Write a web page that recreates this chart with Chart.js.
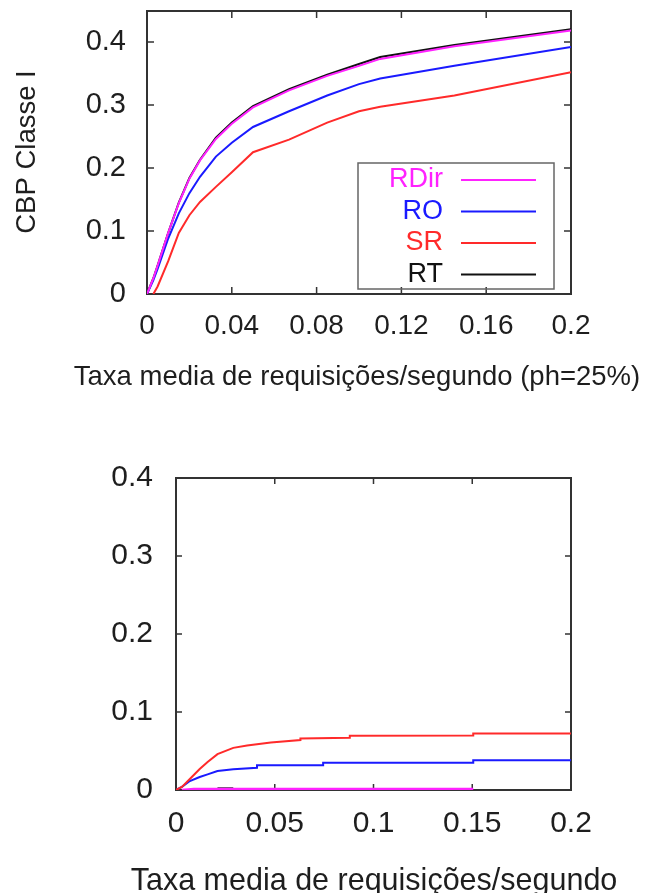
<!DOCTYPE html>
<html>
<head>
<meta charset="utf-8">
<script src="https://cdn.jsdelivr.net/npm/chart.js@4.4.0/dist/chart.umd.min.js"></script>
<style>
  body { margin: 0; background: #fff; }
  .box { position: absolute; left: 0; width: 646px; }
</style>
</head>
<body>
<div class="box" style="top:0;height:400px"><canvas id="cbp"></canvas></div>
<div class="box" style="top:440px;height:453px"><canvas id="cdp"></canvas></div>
<script>
// grafico de cima: CBP classe I (ph=25%)
const topX = [0, 0.003, 0.005, 0.01, 0.015, 0.02, 0.025, 0.0325, 0.04, 0.05, 0.067, 0.085, 0.1, 0.11, 0.145, 0.2];
const topRDir = [0, 0.025, 0.045, 0.097, 0.144, 0.183, 0.212, 0.246, 0.270, 0.296, 0.323, 0.346, 0.362, 0.373, 0.393, 0.418];
const topRO   = [0, 0.022, 0.040, 0.088, 0.128, 0.160, 0.186, 0.218, 0.240, 0.265, 0.290, 0.315, 0.333, 0.342, 0.362, 0.392];
const topSR   = [null, 0, 0.012, 0.052, 0.097, 0.125, 0.146, 0.170, 0.193, 0.225, 0.245, 0.272, 0.290, 0.297, 0.315, 0.352];
const topRT   = [0, 0.025, 0.045, 0.097, 0.145, 0.184, 0.213, 0.248, 0.272, 0.298, 0.325, 0.348, 0.365, 0.376, 0.395, 0.420];
const topXTicks = [0, 0.04, 0.08, 0.12, 0.16, 0.2];
const topXLabels = ['0', '0.04', '0.08', '0.12', '0.16', '0.2'];
const topYTicks = [0, 0.1, 0.2, 0.3, 0.4];
const topYLabels = ['0', '0.1', '0.2', '0.3', '0.4'];

// grafico de baixo: CDP classe I (curvas em degraus)
const botSRX  = [0, 0.003, 0.007, 0.012, 0.016, 0.021, 0.029, 0.036, 0.048, 0.063, 0.063, 0.088, 0.088, 0.1505, 0.1505, 0.2];
const botSRY  = [0, 0.004, 0.014, 0.027, 0.036, 0.046, 0.054, 0.057, 0.061, 0.064, 0.066, 0.067, 0.0695, 0.070, 0.0725, 0.0725];
const botROX  = [0, 0.003, 0.007, 0.012, 0.016, 0.021, 0.029, 0.041, 0.041, 0.0745, 0.0745, 0.1505, 0.1505, 0.2];
const botROY  = [0, 0.004, 0.0115, 0.0167, 0.020, 0.0244, 0.0265, 0.0285, 0.0316, 0.0316, 0.035, 0.035, 0.038, 0.038];
const botRDirX = [0.003, 0.009, 0.1505];
const botRDirY = [0, 0.0012, 0.0012];
const botRTX  = [0.021, 0.029];
const botRTY  = [0.0015, 0.0015];
const botXTicks = [0, 0.05, 0.1, 0.15, 0.2];
const botXLabels = ['0', '0.05', '0.1', '0.15', '0.2'];
const botYTicks = [0, 0.1, 0.2, 0.3, 0.4];
const botYLabels = ['0', '0.1', '0.2', '0.3', '0.4'];

const MAGENTA = '#ff22ff', BLUE = '#1a1aff', RED = '#ff2a2a', BLACK = '#111111';
const TXT = '#1e1e1e';
const FONT = '"Liberation Sans", Arial, sans-serif';

function pts(xs, ys) {
  return xs.map((x, i) => ({ x: x, y: ys[i] }));
}

function serie(label, xs, ys, color, width) {
  return {
    label: label,
    data: pts(xs, ys),
    borderColor: color,
    backgroundColor: color,
    borderWidth: width || 2,
    pointRadius: 0,
    tension: 0,
    fill: false
  };
}

// moldura com marcas para dentro (estilo gnuplot)
const frame = {
  id: 'frame',
  beforeDatasetsDraw(chart, args, opts) {
    const { ctx, chartArea: a, scales } = chart;
    const tl = opts.tick || 7;
    ctx.save();
    ctx.strokeStyle = '#333';
    ctx.lineWidth = 2;
    ctx.strokeRect(a.left, a.top, a.right - a.left, a.bottom - a.top);
    ctx.lineWidth = 1.5;
    ctx.beginPath();
    scales.x.ticks.forEach(t => {
      const px = scales.x.getPixelForValue(t.value);
      ctx.moveTo(px, a.bottom); ctx.lineTo(px, a.bottom - tl);
      ctx.moveTo(px, a.top); ctx.lineTo(px, a.top + tl);
    });
    scales.y.ticks.forEach(t => {
      const py = scales.y.getPixelForValue(t.value);
      ctx.moveTo(a.left, py); ctx.lineTo(a.left + tl, py);
      ctx.moveTo(a.right, py); ctx.lineTo(a.right - tl, py);
    });
    ctx.stroke();
    ctx.restore();
  }
};

// titulos dos eixos desenhados a mao (o titulo do Chart.js fica espremido)
const axisTitles = {
  id: 'axisTitles',
  afterDraw(chart, args, opts) {
    const { ctx, chartArea: a } = chart;
    ctx.save();
    ctx.fillStyle = TXT;
    ctx.textAlign = 'center';
    ctx.textBaseline = 'alphabetic';
    ctx.font = opts.xSize + 'px ' + FONT;
    ctx.fillText(opts.xText, opts.xCenter, a.bottom + opts.xBase);
    ctx.translate(opts.yBase, opts.yCenter);
    ctx.rotate(-Math.PI / 2);
    ctx.font = opts.ySize + 'px ' + FONT;
    ctx.fillText(opts.yText, 0, 0);
    ctx.restore();
  }
};

// legenda dentro do grafico: texto colorido a esquerda, linha a direita
const innerLegend = {
  id: 'innerLegend',
  afterDraw(chart, args, opts) {
    if (!opts.show) return;
    const { ctx } = chart;
    ctx.save();
    ctx.strokeStyle = '#666';
    ctx.lineWidth = 1.5;
    ctx.strokeRect(opts.left, opts.top, opts.width, opts.height);
    ctx.font = opts.fontSize + 'px ' + FONT;
    ctx.textAlign = 'right';
    ctx.textBaseline = 'middle';
    chart.data.datasets.forEach((ds, i) => {
      const y = opts.firstRow + i * opts.rowGap;
      ctx.fillStyle = ds.borderColor;
      ctx.fillText(ds.label, opts.textRight, y);
      ctx.strokeStyle = ds.borderColor;
      ctx.lineWidth = 2;
      ctx.beginPath();
      ctx.moveTo(opts.lineFrom, y);
      ctx.lineTo(opts.lineTo, y);
      ctx.stroke();
    });
    ctx.restore();
  }
};

function makeChart(id, datasets, c) {
  return new Chart(document.getElementById(id), {
    type: 'line',
    data: { datasets: datasets },
    plugins: [frame, axisTitles, innerLegend],
    options: {
      responsive: true,
      maintainAspectRatio: false,
      animation: false,
      layout: { autoPadding: false, padding: { top: c.padTop, right: c.padRight, left: 0, bottom: 0 } },
      plugins: {
        legend: { display: false },
        tooltip: { enabled: false },
        frame: { tick: c.tick },
        axisTitles: c.titles,
        innerLegend: c.legend || { show: false }
      },
      scales: {
        x: {
          type: 'linear',
          min: 0,
          max: 0.2,
          afterBuildTicks: s => { s.ticks = c.xTicks.map(v => ({ value: v })); },
          afterFit: s => { s.height = c.axisH; s.paddingLeft = 0; s.paddingRight = 0; },
          grid: { display: false, drawTicks: false },
          border: { display: false },
          ticks: {
            color: TXT,
            font: { family: FONT, size: c.xTickSize },
            padding: c.xPad,
            maxRotation: 0,
            autoSkip: false,
            callback: (v, i) => c.xLabels[i]
          }
        },
        y: {
          type: 'linear',
          min: 0,
          max: c.yMax,
          afterBuildTicks: s => { s.ticks = c.yTicks.map(v => ({ value: v })); },
          afterFit: s => { s.width = c.axisW; s.paddingTop = 0; s.paddingBottom = 0; },
          grid: { display: false, drawTicks: false },
          border: { display: false },
          ticks: {
            color: TXT,
            font: { family: FONT, size: c.yTickSize },
            padding: c.yPad,
            autoSkip: false,
            callback: (v, i) => c.yLabels[i]
          }
        }
      }
    }
  });
}

makeChart('cbp', [
  serie('RDir', topX, topRDir, MAGENTA),
  serie('RO', topX, topRO, BLUE),
  serie('SR', topX, topSR, RED),
  serie('RT', topX, topRT, BLACK)
], {
  padTop: 11, padRight: 75, axisW: 147, axisH: 106,
  yMax: 0.449,
  xTicks: topXTicks, xLabels: topXLabels,
  yTicks: topYTicks, yLabels: topYLabels,
  xTickSize: 28, yTickSize: 29, tick: 7,
  xPad: 15, yPad: 21,
  titles: {
    xText: 'Taxa media de requisições/segundo (ph=25%)', xSize: 27.5, xCenter: 357, xBase: 91,
    yText: 'CBP Classe I', ySize: 27.5, yCenter: 152, yBase: 35
  },
  legend: {
    show: true, left: 358, top: 163, width: 196, height: 126,
    fontSize: 27, textRight: 443, lineFrom: 461, lineTo: 536,
    firstRow: 180, rowGap: 31.5
  }
});

makeChart('cdp', [
  serie('SR', botSRX, botSRY, RED),
  serie('RO', botROX, botROY, BLUE),
  serie('RDir', botRDirX, botRDirY, MAGENTA, 2.5),
  serie('RT', botRTX, botRTY, BLACK, 3)
], {
  padTop: 38, padRight: 75, axisW: 176, axisH: 103,
  yMax: 0.4,
  xTicks: botXTicks, xLabels: botXLabels,
  yTicks: botYTicks, yLabels: botYLabels,
  xTickSize: 30, yTickSize: 30, tick: 6,
  xPad: 16, yPad: 23,
  titles: {
    xText: 'Taxa media de requisições/segundo', xSize: 30.5, xCenter: 374, xBase: 100,
    yText: 'CDP - Classe I', ySize: 32.5, yCenter: 641, yBase: 55
  }
});
</script>
</body>
</html>
